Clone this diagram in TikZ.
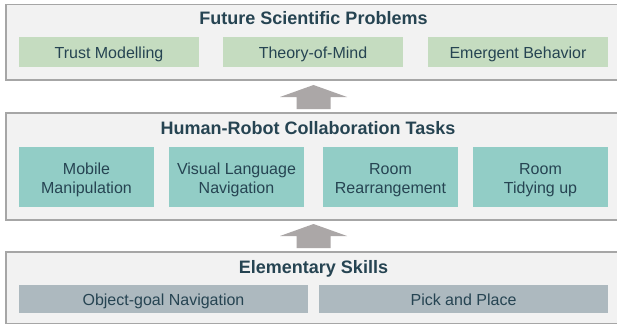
\documentclass[tikz,border=0pt]{standalone}
\usepackage{fontspec}
\setmainfont{Liberation Sans}
\definecolor{panelfill}{RGB}{242,242,242}
\definecolor{panelline}{RGB}{166,166,166}
\definecolor{greenbox}{RGB}{197,220,192}
\definecolor{tealbox}{RGB}{146,205,198}
\definecolor{graybox}{RGB}{173,185,191}
\definecolor{txt}{RGB}{38,68,82}
\definecolor{arrowgray}{RGB}{171,167,167}
\newcommand{\sline}[1]{\rule[-1pt]{0pt}{15.5pt}\smash{#1}}
\tikzset{
  panel/.style={draw=panelline, fill=panelfill, line width=1.5pt, anchor=north west, inner sep=0pt, outer sep=0pt},
  title/.style={anchor=base, inner sep=0pt, text=txt, font=\fontsize{18}{21}\selectfont\bfseries},
  itembox/.style={anchor=north west, inner sep=0pt, outer sep=0pt, text=txt, align=center, font=\fontsize{16}{19.5}\selectfont},
  gbox/.style={itembox, fill=greenbox, minimum width=180pt, minimum height=30pt},
  tbox/.style={itembox, fill=tealbox, minimum width=135pt, minimum height=60pt},
  sbox/.style={itembox, fill=graybox, minimum width=289pt, minimum height=28.3pt},
  blockarrow/.style={fill=arrowgray}
}
\begin{document}
\begin{tikzpicture}[x=1pt,y=-1pt]
\clip (0,0) rectangle (617,326);
\fill[white] (0,0) rectangle (617,326);
% panels
\node[panel, minimum width=620pt, minimum height=75.5pt] (top) at (6,4.5) {};
\node[panel, minimum width=620pt, minimum height=107pt] (mid) at (6,113) {};
\node[panel, minimum width=620pt, minimum height=71.5pt] (bot) at (6,252) {};
% titles
\node[title] (toptitle) at (313.5,25) {Future Scientific Problems};
\node[title] (midtitle) at (308,134.3) {Human-Robot Collaboration Tasks};
\node[title] (bottitle) at (313.5,273) {Elementary Skills};
% top boxes
\node[gbox] (trust) at (19,37) {\sline{Trust Modelling}};
\node[gbox] (tom) at (223,37) {\sline{Theory-of-Mind}};
\node[gbox] (emerg) at (428,37) {\sline{Emergent Behavior}};
% middle boxes
\node[tbox] (mm) at (19,147) {\sline{Mobile}\\\sline{Manipulation}};
\node[tbox] (vln) at (169,147) {\sline{Visual Language}\\\sline{Navigation}};
\node[tbox] (rr) at (323,147) {\sline{Room}\\\sline{Rearrangement}};
\node[tbox] (rt) at (473,147) {\sline{Room}\\\sline{Tidying up}};
% bottom boxes
\node[sbox] (ogn) at (19,285) {\sline{Object-goal Navigation}};
\node[sbox] (pp) at (319,285) {\sline{Pick and Place}};
% block arrows
\coordinate (a1) at (313.5,109);
\coordinate (a2) at (313.5,248);
\foreach \c in {a1,a2}{
  \fill[blockarrow] (\c) -- ++(17,0) -- ++(0,-12) -- ++(16.5,0) -- ++(-33.5,-12)
    -- ++(-33.5,12) -- ++(16.5,0) -- ++(0,12) -- cycle;
}
\end{tikzpicture}
\end{document}
